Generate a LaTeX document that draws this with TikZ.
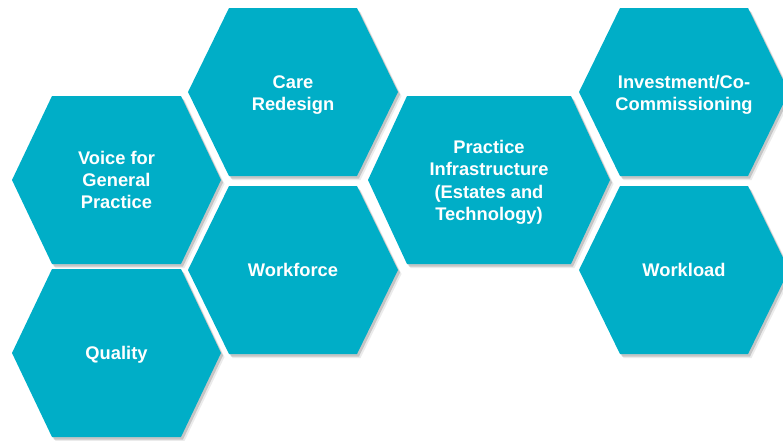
\documentclass[tikz,border=0pt]{standalone}
\usepackage{fontspec}
\setmainfont{Liberation Sans}
\usetikzlibrary{shadows}
\definecolor{hexteal}{RGB}{0,174,199}
\tikzset{
  hexfill/.style={fill=hexteal,
    drop shadow={shadow xshift=3.5pt, shadow yshift=-4pt, opacity=0.08, fill=black},
    drop shadow={shadow xshift=2pt, shadow yshift=-2.5pt, opacity=0.16, fill=black}},
  hexlabel/.style={text=white, align=center, font=\bfseries\fontsize{18.3}{22.4}\selectfont, inner sep=0pt}
}
% cx, cy, half-width, top half-width
\newcommand\hexpath[4]{%
  \path[hexfill] ({#1-#3},#2) -- ({#1-#4},{#2-84}) -- ({#1+#4},{#2-84}) -- ({#1+#3},#2)
    -- ({#1+#4},{#2+84}) -- ({#1-#4},{#2+84}) -- cycle;}
\begin{document}
\begin{tikzpicture}[x=1pt,y=-1pt]
\useasboundingbox (0,0) rectangle (783,440);
\hexpath{293}{92}{105}{64}
\hexpath{116.5}{180}{104.5}{64.5}
\hexpath{293}{270}{105}{64}
\hexpath{116.5}{353}{104.5}{64.5}
\hexpath{489}{180}{121}{82}
\hexpath{684}{92}{105}{64}
\hexpath{684}{270}{105}{64}
\node[hexlabel] (care) at (293,95) {Care\\Redesign};
\node[hexlabel] (voice) at (116.5,180) {Voice for\\General\\Practice};
\node[hexlabel] (workforce) at (293,270) {Workforce};
\node[hexlabel] (quality) at (116.5,355) {Quality};
\node[hexlabel] (infra) at (489,182.5) {Practice\\Infrastructure\\(Estates and\\Technology)};
\node[hexlabel] (invest) at (684,95) {Investment/Co-\\Commissioning};
\node[hexlabel] (workload) at (684,270) {Workload};
\end{tikzpicture}
\end{document}
